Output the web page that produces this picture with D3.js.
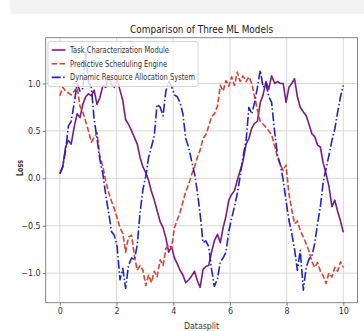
<!DOCTYPE html>
<html>
<head>
<meta charset="utf-8">
<script src="https://cdn.jsdelivr.net/npm/d3@7"></script>
<style>
  body { margin: 0; background: #fff; }
  svg text { font-family: "DejaVu Sans", sans-serif; }
</style>
</head>
<body>
<div id="chart"></div>
<script>
var svgWidth = 364;
var svgHeight = 331;

// x positions of the samples (100 points from 0 to 10)
var datasplit = [0.00,0.10,0.20,0.30,0.40,0.51,0.61,0.71,0.81,0.91,1.01,1.11,1.21,1.31,1.41,1.52,1.62,1.72,1.82,1.92,
  2.02,2.12,2.22,2.32,2.42,2.53,2.63,2.73,2.83,2.93,3.03,3.13,3.23,3.33,3.43,3.54,3.64,3.74,3.84,3.94,
  4.04,4.14,4.24,4.34,4.44,4.55,4.65,4.75,4.85,4.95,5.05,5.15,5.25,5.35,5.45,5.56,5.66,5.76,5.86,5.96,
  6.06,6.16,6.26,6.36,6.46,6.57,6.67,6.77,6.87,6.97,7.07,7.17,7.27,7.37,7.47,7.58,7.68,7.78,7.88,7.98,
  8.08,8.18,8.28,8.38,8.48,8.59,8.69,8.79,8.89,8.99,9.09,9.19,9.29,9.39,9.49,9.60,9.70,9.80,9.90,10.00];

var taskLoss = [0.05,0.12,0.33,0.40,0.36,0.55,0.68,0.64,0.78,0.86,0.89,0.87,0.93,0.78,0.85,0.98,0.96,1.08,0.99,0.96,
  1.04,0.93,0.82,0.62,0.57,0.50,0.43,0.36,0.22,0.12,0.06,-0.02,-0.14,-0.23,-0.34,-0.46,-0.52,-0.63,-0.78,-0.72,
  -0.84,-0.90,-0.97,-1.02,-1.10,-1.07,-1.03,-0.98,-1.08,-1.15,-0.96,-0.93,-0.92,-0.78,-0.66,-0.59,-0.68,-0.52,-0.40,-0.23,
  -0.17,-0.13,-0.02,0.08,0.18,0.36,0.42,0.53,0.58,0.60,0.80,0.88,1.02,0.94,1.08,1.00,1.02,1.00,1.00,0.80,
  0.96,1.00,1.05,0.86,0.75,0.70,0.66,0.57,0.47,0.44,0.35,0.33,0.16,0.05,-0.08,-0.30,-0.23,-0.35,-0.45,-0.57];

var schedLoss = [0.87,0.96,0.92,0.90,0.88,0.92,0.96,0.76,0.70,0.60,0.50,0.38,0.43,0.48,0.23,0.12,-0.03,-0.15,-0.24,-0.32,
  -0.42,-0.52,-0.58,-0.78,-0.62,-0.60,-0.82,-0.97,-0.92,-0.97,-1.13,-1.02,-1.10,-0.98,-1.04,-0.86,-0.92,-0.74,-0.70,-0.74,
  -0.52,-0.44,-0.36,-0.25,-0.14,-0.06,0.04,0.12,0.22,0.30,0.42,0.46,0.55,0.65,0.68,0.76,0.98,0.92,1.03,0.97,
  1.07,0.98,1.12,1.02,1.08,1.02,1.07,1.00,0.86,0.72,0.60,0.57,0.54,0.50,0.46,0.34,0.22,0.14,0.08,0.14,
  -0.16,-0.33,-0.48,-0.45,-0.55,-0.62,-0.69,-0.77,-0.88,-0.94,-0.89,-0.98,-1.03,-1.11,-1.00,-1.04,-0.94,-0.98,-0.88,-0.94];

var allocLoss = [0.05,0.12,0.29,0.55,0.60,0.80,1.00,0.92,0.95,1.33,1.02,0.96,0.62,0.42,0.20,0.04,-0.18,-0.36,-0.56,-0.60,
  -0.72,-1.07,-0.95,-1.16,-0.92,-0.84,-0.86,-0.70,-0.36,-0.12,0.02,0.22,0.33,0.45,0.78,0.75,0.66,0.92,1.02,0.97,
  0.88,0.86,0.80,0.68,0.42,0.32,0.18,0.05,-0.14,-0.38,-0.68,-0.66,-0.72,-0.96,-1.14,-1.06,-0.88,-0.84,-0.78,-0.56,
  -0.42,-0.30,-0.16,0.02,0.22,0.40,0.75,0.68,0.80,0.96,1.14,0.96,1.00,0.86,0.80,0.48,0.24,0.14,-0.02,-0.24,
  -0.44,-0.58,-0.75,-0.97,-0.76,-1.18,-0.94,-0.85,-0.82,-0.69,-0.48,-0.30,-0.04,0.10,0.24,0.40,0.52,0.70,0.86,0.98];

var seriesNames = ["Task Characterization Module", "Predictive Scheduling Engine", "Dynamic Resource Allocation System"];
var xTicks = [0, 2, 4, 6, 8, 10];
var yTicks = [-1.0, -0.5, 0.0, 0.5, 1.0];

var series = [
  { name: seriesNames[0], values: taskLoss, color: "#7d1a86", dash: null },
  { name: seriesNames[1], values: schedLoss, color: "#df3f2e", dash: "5.5,2.4" },
  { name: seriesNames[2], values: allocLoss, color: "#2222c8", dash: "9,2.4,1.5,2.4" }
];

var plot = { left: 45.7, right: 357.5, top: 37.7, bottom: 302.7 };

var svg = d3.select("#chart")
  .append("svg")
  .attr("width", svgWidth)
  .attr("height", svgHeight);

// light band across the top of the screenshot
svg.append("rect")
  .attr("x", 10).attr("y", 0)
  .attr("width", 354).attr("height", 14)
  .attr("fill", "#f3f3f3");

var xScale = d3.scaleLinear().domain([-0.5, 10.5]).range([plot.left, plot.right]);
var yScale = d3.scaleLinear().domain([-1.312, 1.483]).range([plot.bottom, plot.top]);

// grid
var grid = svg.append("g");
grid.selectAll(".gx").data(xTicks).enter().append("line")
  .attr("x1", d => xScale(d)).attr("x2", d => xScale(d))
  .attr("y1", plot.top).attr("y2", plot.bottom)
  .attr("stroke", "#d4d4d4").attr("stroke-width", 0.9);
grid.selectAll(".gy").data(yTicks).enter().append("line")
  .attr("y1", d => yScale(d)).attr("y2", d => yScale(d))
  .attr("x1", plot.left).attr("x2", plot.right)
  .attr("stroke", "#d4d4d4").attr("stroke-width", 0.9);

// axes
var xAxis = svg.append("g")
  .attr("transform", `translate(0,${plot.bottom})`)
  .call(d3.axisBottom(xScale).tickValues(xTicks).tickSize(3).tickPadding(3).tickFormat(d3.format("d")));
var yAxis = svg.append("g")
  .attr("transform", `translate(${plot.left},0)`)
  .call(d3.axisLeft(yScale).tickValues(yTicks).tickSize(3).tickPadding(2)
    .tickFormat(d => d3.format(".1f")(d).replace("-", "\u2212")));

[xAxis, yAxis].forEach(a => {
  a.select(".domain").remove();
  a.selectAll(".tick line").attr("stroke", "#555").attr("stroke-width", 0.8);
  a.selectAll(".tick text").attr("fill", "#333").attr("font-size", "8px")
    .attr("font-family", "DejaVu Sans, sans-serif");
});

// lines
var line = d3.line()
  .x((d, i) => xScale(datasplit[i]))
  .y(d => yScale(d));

svg.append("g").selectAll("path")
  .data(series)
  .enter()
  .append("path")
  .attr("d", d => line(d.values))
  .attr("fill", "none")
  .attr("stroke", d => d.color)
  .attr("stroke-width", 1.6)
  .attr("stroke-dasharray", d => d.dash)
  .attr("stroke-linejoin", "round");

// frame
svg.append("rect")
  .attr("x", plot.left).attr("y", plot.top)
  .attr("width", plot.right - plot.left).attr("height", plot.bottom - plot.top)
  .attr("fill", "none").attr("stroke", "#7a7a7a").attr("stroke-width", 0.9);

// title and axis labels
svg.append("text")
  .attr("x", (plot.left + plot.right) / 2).attr("y", 32.5)
  .attr("text-anchor", "middle")
  .attr("font-size", "11px").attr("fill", "#222")
  .attr("textLength", 143).attr("lengthAdjust", "spacingAndGlyphs")
  .text("Comparison of Three ML Models");

svg.append("text")
  .attr("x", (plot.left + plot.right) / 2).attr("y", 329)
  .attr("text-anchor", "middle")
  .attr("font-size", "9px").attr("fill", "#333")
  .attr("textLength", 35).attr("lengthAdjust", "spacingAndGlyphs")
  .text("Datasplit");

svg.append("text")
  .attr("transform", "translate(22.5,168)rotate(-90)")
  .attr("text-anchor", "middle")
  .attr("font-size", "8.5px").attr("font-weight", "bold").attr("fill", "#333")
  .attr("textLength", 16).attr("lengthAdjust", "spacingAndGlyphs")
  .text("Loss");

// legend
var legend = svg.append("g");
legend.append("rect")
  .attr("x", 48).attr("y", 41.5)
  .attr("width", 150).attr("height", 45)
  .attr("rx", 2)
  .attr("fill", "#fff").attr("fill-opacity", 0.8)
  .attr("stroke", "#cccccc").attr("stroke-width", 0.8);

var legendWidths = [99, 97, 125];
var items = legend.selectAll(".item")
  .data(series)
  .enter()
  .append("g")
  .attr("transform", (d, i) => `translate(0,${50 + i * 13.7})`);

items.append("line")
  .attr("x1", 51.7).attr("x2", 65.5)
  .attr("y1", 0).attr("y2", 0)
  .attr("stroke", d => d.color)
  .attr("stroke-width", 1.6)
  .attr("stroke-dasharray", d => d.dash);

items.append("text")
  .attr("x", 70).attr("y", 3)
  .attr("font-size", "8.5px").attr("fill", "#333")
  .attr("textLength", (d, i) => legendWidths[i]).attr("lengthAdjust", "spacingAndGlyphs")
  .text(d => d.name);
</script>
</body>
</html>
